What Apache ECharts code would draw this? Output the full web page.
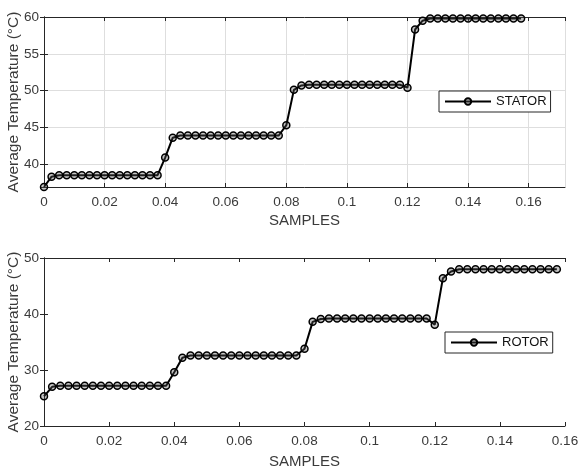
<!DOCTYPE html>
<html>
<head>
<meta charset="utf-8">
<script src="https://cdn.jsdelivr.net/npm/echarts@6/dist/echarts.min.js"></script>
<style>
  html, body { margin: 0; padding: 0; background: #fff; }
  #chart { width: 580px; height: 472px; }
</style>
</head>
<body>
<div id="chart"></div>
<script>
// sample positions (x) shared by both plots
const samples = [
  0, 0.0025, 0.005, 0.0075, 0.01, 0.0125, 0.015, 0.0175, 0.02, 0.0225, 0.025, 0.0275, 0.03, 0.0325, 0.035, 0.0375,
  0.04, 0.0425, 0.045, 0.0475, 0.05, 0.0525, 0.055, 0.0575, 0.06, 0.0625, 0.065, 0.0675, 0.07, 0.0725, 0.075, 0.0775,
  0.08, 0.0825, 0.085, 0.0875, 0.09, 0.0925, 0.095, 0.0975, 0.1, 0.1025, 0.105, 0.1075, 0.11, 0.1125, 0.115, 0.1175,
  0.12, 0.1225, 0.125, 0.1275, 0.13, 0.1325, 0.135, 0.1375, 0.14, 0.1425, 0.145, 0.1475, 0.15, 0.1525, 0.155, 0.1575
]

const statorTemp = [
  36.9, 38.3, 38.5, 38.5, 38.5, 38.5, 38.5, 38.5, 38.5, 38.5, 38.5, 38.5, 38.5, 38.5, 38.5, 38.5,
  40.9, 43.6, 43.9, 43.9, 43.9, 43.9, 43.9, 43.9, 43.9, 43.9, 43.9, 43.9, 43.9, 43.9, 43.9, 43.9,
  45.3, 50.1, 50.7, 50.8, 50.8, 50.8, 50.8, 50.8, 50.8, 50.8, 50.8, 50.8, 50.8, 50.8, 50.8, 50.8,
  50.4, 58.3, 59.5, 59.8, 59.8, 59.8, 59.8, 59.8, 59.8, 59.8, 59.8, 59.8, 59.8, 59.8, 59.8, 59.8
]

const rotorTemp = [
  25.3, 27.0, 27.2, 27.2, 27.2, 27.2, 27.2, 27.2, 27.2, 27.2, 27.2, 27.2, 27.2, 27.2, 27.2, 27.2,
  29.6, 32.2, 32.6, 32.6, 32.6, 32.6, 32.6, 32.6, 32.6, 32.6, 32.6, 32.6, 32.6, 32.6, 32.6, 32.6,
  33.8, 38.6, 39.1, 39.2, 39.2, 39.2, 39.2, 39.2, 39.2, 39.2, 39.2, 39.2, 39.2, 39.2, 39.2, 39.2,
  38.1, 46.4, 47.6, 48.0, 48.0, 48.0, 48.0, 48.0, 48.0, 48.0, 48.0, 48.0, 48.0, 48.0, 48.0, 48.0
]

const FONT = '"Liberation Sans", Arial, sans-serif'
const INK = '#262626'
const LABEL = '#3a3a3a'
const yName = 'Average Temperature (°C)'

function toPoints(values) {
  return values.map((v, i) => [samples[i], v])
}

// main axis (with labels) + mirrored axis (frame + ticks only)
function xAxes(grid, max, showGrid, gap) {
  return [
    {
      type: 'value',
      gridIndex: grid,
      min: 0,
      max: max,
      interval: 0.02,
      name: 'SAMPLES',
      nameLocation: 'middle',
      nameGap: gap,
      nameMoveOverlap: false,
      nameTextStyle: { color: LABEL, fontFamily: FONT, fontSize: 15 },
      axisLine: { show: true, lineStyle: { color: INK, width: 1 } },
      axisTick: { show: true, inside: true, length: 4, lineStyle: { color: INK } },
      axisLabel: { color: LABEL, fontFamily: FONT, fontSize: 13.5, margin: 8, showMaxLabel: max === 0.16 },
      splitLine: { show: showGrid, lineStyle: { color: '#dedede', width: 1 } }
    },
    {
      type: 'value',
      gridIndex: grid,
      position: 'top',
      min: 0,
      max: max,
      interval: 0.02,
      axisLine: { show: true, lineStyle: { color: INK, width: 1 } },
      axisTick: { show: true, inside: true, length: 4, lineStyle: { color: INK } },
      axisLabel: { show: false },
      splitLine: { show: false }
    }
  ]
}

function yAxes(grid, min, max, interval, showGrid) {
  const base = {
    type: 'value',
    gridIndex: grid,
    min: min,
    max: max
  }
  if (interval) base.interval = interval
  return [
    Object.assign({}, base, {
      name: yName,
      nameLocation: 'middle',
      nameGap: 22,
      nameMoveOverlap: false,
      nameTextStyle: { color: LABEL, fontFamily: FONT, fontSize: 15.5 },
      axisLine: { show: true, lineStyle: { color: INK, width: 1 } },
      axisTick: { show: true, inside: true, length: 4, lineStyle: { color: INK } },
      axisLabel: { color: LABEL, fontFamily: FONT, fontSize: 13.5, margin: 5, showMinLabel: !!interval },
      splitLine: { show: showGrid, lineStyle: { color: '#dedede', width: 1 } }
    }),
    Object.assign({}, base, {
      position: 'right',
      axisLine: { show: true, lineStyle: { color: INK, width: 1 } },
      axisTick: { show: true, inside: true, length: 4, lineStyle: { color: INK } },
      axisLabel: { show: false },
      splitLine: { show: false }
    })
  ]
}

function lineSeries(name, values, axis) {
  return {
    name: name,
    type: 'line',
    xAxisIndex: axis,
    yAxisIndex: axis,
    data: toPoints(values),
    symbol: 'circle',
    symbolSize: 7,
    clip: false,
    lineStyle: { color: '#000', width: 2 },
    itemStyle: { color: 'rgba(90,90,90,0.35)', borderColor: '#000', borderWidth: 1.5 },
    emphasis: { disabled: true },
    animation: false
  }
}

function legendBox(name, left, top) {
  return {
    data: [name],
    left: left,
    top: top,
    orient: 'horizontal',
    padding: [4, 4, 4, 5],
    itemWidth: 46,
    itemHeight: 8,
    itemGap: 0,
    backgroundColor: '#fff',
    borderColor: INK,
    borderWidth: 1,
    borderRadius: 0,
    selectedMode: false,
    textStyle: { color: '#111', fontFamily: FONT, fontSize: 13, padding: [0, 0, 0, 0] }
  }
}

function getOption() {
  return {
    backgroundColor: '#fff',
    animation: false,
    grid: [
      { left: 44, top: 17, width: 521, height: 170, containLabel: false, outerBoundsMode: 'none' },
      { left: 44, top: 258, width: 521, height: 168, containLabel: false, outerBoundsMode: 'none' }
    ],
    legend: [
      legendBox('STATOR', 439, 91),
      legendBox('ROTOR', 445, 332)
    ],
    // axes 0,1 -> top plot ; axes 2,3 -> bottom plot
    xAxis: [].concat(xAxes(0, 0.172, true, 26), xAxes(1, 0.16, false, 28)),
    yAxis: [].concat(yAxes(0, 36.9, 60, null, true), yAxes(1, 20, 50, 10, false)),
    series: [
      lineSeries('STATOR', statorTemp, 0),
      lineSeries('ROTOR', rotorTemp, 2)
    ]
  }
}

const chart = echarts.init(document.getElementById('chart'), null, { renderer: 'canvas' })
chart.setOption(getOption())
</script>
</body>
</html>
